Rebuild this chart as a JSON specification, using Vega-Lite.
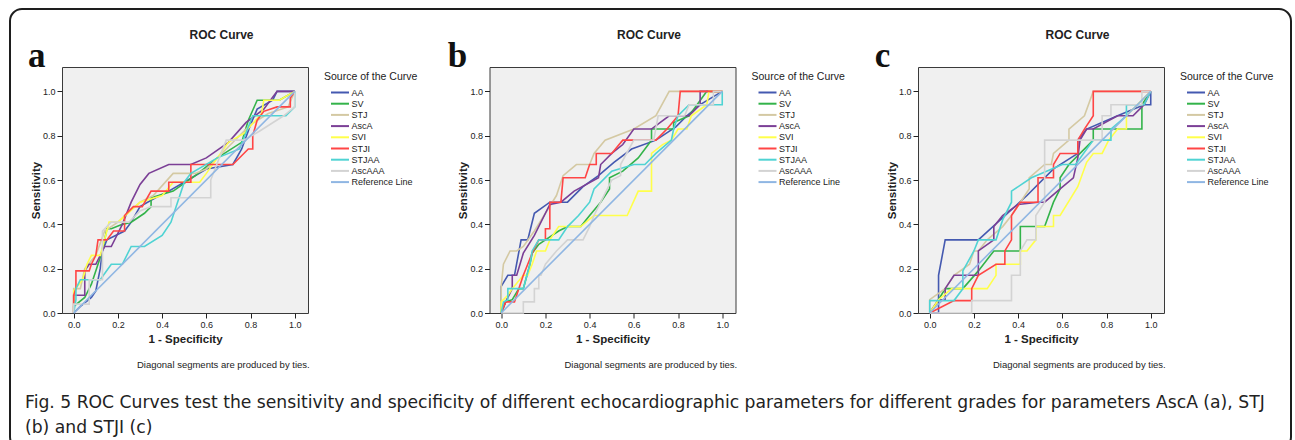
{
"$schema": "https://vega.github.io/schema/vega-lite/v6.json",
"padding": {"left": 9, "top": 3, "right": 0, "bottom": 0},
"config": {
  "font": "Liberation Sans",
  "view": {"stroke": null},
  "axis": {"grid": false, "domain": false, "tickColor": "#222", "tickSize": 5, "labelFont": "Liberation Sans", "labelFontSize": 9, "labelColor": "#222", "labelPadding": 2, "titleFont": "Liberation Sans", "titleFontSize": 11.5, "titleFontWeight": "bold", "titleColor": "#222"},
  "axisX": {"titlePadding": 4},
  "axisY": {"titlePadding": 1},
  "legend": {"orient": "right", "offset": 11, "padding": 5, "symbolType": "M-2,0H2", "symbolSize": 81, "symbolStrokeWidth": 2, "symbolOffset": 10.5, "labelOffset": 6, "labelFont": "Liberation Sans", "labelFontSize": 9, "labelColor": "#222", "rowPadding": 0.2, "titleFont": "Liberation Sans", "titleFontSize": 10.5, "titleFontWeight": "normal", "titleColor": "#222", "titlePadding": 4.5},
  "title": {"font": "Liberation Sans", "fontSize": 12, "fontWeight": "bold", "color": "#222"}
},
"datasets": {
  "pa": [
    {"s": "AA", "x": [0,0.03,0.08,0.1,0.12,0.13,0.15,0.21,0.23,0.26,0.3,0.37,0.43,0.5,0.6,0.72,0.76,0.8,0.83,0.9,0.92,1], "y": [0,0.03,0.07,0.1,0.2,0.28,0.33,0.36,0.37,0.41,0.48,0.52,0.55,0.59,0.65,0.67,0.74,0.85,0.92,0.96,1,1]},
    {"s": "SV", "x": [0,0,0.05,0.08,0.12,0.14,0.15,0.17,0.22,0.26,0.32,0.35,0.35,0.45,0.55,0.65,0.76,0.79,0.83,0.93,1], "y": [0,0.03,0.07,0.13,0.25,0.33,0.38,0.38,0.4,0.41,0.45,0.48,0.52,0.55,0.62,0.7,0.77,0.87,0.96,0.96,1]},
    {"s": "STJ", "x": [0,0,0.03,0.05,0.1,0.14,0.2,0.3,0.36,0.45,0.55,0.6,0.7,0.8,0.88,0.97,1], "y": [0,0.11,0.11,0.2,0.26,0.37,0.41,0.5,0.53,0.63,0.63,0.65,0.75,0.85,0.9,0.93,1]},
    {"s": "AscA", "x": [0,0,0.05,0.05,0.07,0.1,0.14,0.17,0.22,0.26,0.3,0.34,0.43,0.53,0.6,0.7,0.78,0.86,0.92,0.97,1], "y": [0,0.08,0.08,0.19,0.22,0.22,0.3,0.3,0.4,0.5,0.58,0.63,0.67,0.67,0.7,0.77,0.86,0.92,1,1,1]},
    {"s": "SVI", "x": [0,0,0.04,0.06,0.08,0.12,0.15,0.16,0.2,0.3,0.4,0.45,0.57,0.6,0.7,0.77,0.85,0.86,0.93,1], "y": [0,0.1,0.15,0.22,0.26,0.26,0.37,0.41,0.41,0.5,0.53,0.59,0.59,0.63,0.77,0.81,0.9,0.96,0.96,1]},
    {"s": "STJI", "x": [0,0,0.01,0.01,0.07,0.08,0.1,0.11,0.15,0.18,0.23,0.23,0.27,0.31,0.35,0.43,0.43,0.53,0.53,0.72,0.79,0.81,0.81,0.83,0.86,0.92,0.98,0.98,1], "y": [0,0.08,0.11,0.19,0.19,0.22,0.26,0.33,0.33,0.37,0.37,0.44,0.48,0.48,0.55,0.55,0.59,0.59,0.67,0.67,0.74,0.74,0.8,0.87,0.91,0.93,0.93,0.97,1]},
    {"s": "STJAA", "x": [0,0.01,0.01,0.03,0.12,0.17,0.22,0.26,0.32,0.4,0.44,0.5,0.53,0.65,0.75,0.81,0.96,1,1], "y": [0,0.06,0.11,0.15,0.15,0.22,0.22,0.3,0.3,0.35,0.41,0.59,0.63,0.7,0.74,0.89,0.89,0.93,1]},
    {"s": "AscAAA", "x": [0,0,0.07,0.07,0.13,0.13,0.17,0.25,0.3,0.35,0.44,0.44,0.62,0.62,0.69,0.77,0.84,0.95,1,1], "y": [0,0.04,0.04,0.15,0.15,0.37,0.41,0.41,0.46,0.48,0.48,0.52,0.52,0.6,0.78,0.78,0.82,0.89,0.93,1]},
    {"s": "Reference Line", "x": [0,1], "y": [0,1]}
  ],
  "pb": [
    {"s": "AA", "x": [0,0,0.03,0.06,0.09,0.12,0.15,0.22,0.3,0.37,0.44,0.51,0.59,0.7,0.79,0.84,0.9,1], "y": [0,0.12,0.17,0.17,0.33,0.33,0.45,0.5,0.5,0.57,0.62,0.68,0.74,0.78,0.84,0.89,0.94,1]},
    {"s": "SV", "x": [0,0.02,0.05,0.08,0.1,0.13,0.14,0.17,0.2,0.26,0.3,0.36,0.4,0.45,0.49,0.49,0.55,0.62,0.68,0.68,0.78,0.78,0.85,0.93,1], "y": [0,0.05,0.06,0.11,0.11,0.22,0.27,0.31,0.33,0.37,0.39,0.39,0.44,0.5,0.56,0.61,0.64,0.7,0.78,0.83,0.83,0.86,0.89,1,1]},
    {"s": "STJ", "x": [0,0,0.01,0.04,0.07,0.1,0.15,0.2,0.25,0.28,0.34,0.4,0.42,0.47,0.6,0.7,0.76,1], "y": [0,0.12,0.22,0.28,0.28,0.3,0.37,0.45,0.53,0.62,0.67,0.67,0.72,0.78,0.83,0.89,1,1]},
    {"s": "AscA", "x": [0,0.02,0.05,0.05,0.07,0.1,0.15,0.22,0.27,0.33,0.44,0.45,0.5,0.55,0.6,0.68,0.72,0.76,0.85,0.9,0.9,1], "y": [0,0.05,0.11,0.17,0.17,0.27,0.35,0.49,0.5,0.55,0.61,0.67,0.72,0.76,0.83,0.83,0.86,0.89,0.89,0.94,1,1]},
    {"s": "SVI", "x": [0,0,0.03,0.05,0.1,0.12,0.14,0.16,0.2,0.22,0.26,0.36,0.42,0.57,0.62,0.68,0.68,0.73,0.77,0.8,0.84,0.86,0.93,0.94,1], "y": [0,0.05,0.08,0.11,0.17,0.17,0.22,0.28,0.28,0.33,0.39,0.39,0.44,0.44,0.55,0.55,0.72,0.76,0.78,0.83,0.83,0.89,0.94,1,1]},
    {"s": "STJI", "x": [0,0.02,0.06,0.08,0.1,0.12,0.14,0.17,0.2,0.2,0.22,0.22,0.27,0.28,0.38,0.4,0.43,0.43,0.5,0.55,0.7,0.75,0.8,0.81,0.96,1], "y": [0,0.05,0.05,0.11,0.17,0.22,0.27,0.33,0.33,0.38,0.38,0.5,0.5,0.61,0.61,0.67,0.67,0.72,0.72,0.78,0.78,0.83,0.89,1,1,1]},
    {"s": "STJAA", "x": [0,0.01,0.03,0.03,0.1,0.13,0.14,0.17,0.26,0.3,0.35,0.4,0.42,0.5,0.6,0.65,0.7,0.77,0.78,0.8,0.85,1,1], "y": [0,0.05,0.06,0.11,0.11,0.22,0.28,0.33,0.33,0.39,0.44,0.5,0.56,0.64,0.67,0.67,0.72,0.78,0.83,0.89,0.94,0.94,1]},
    {"s": "AscAAA", "x": [0,0.1,0.1,0.15,0.15,0.17,0.17,0.18,0.2,0.25,0.3,0.37,0.4,0.42,0.45,0.5,0.54,0.54,0.6,0.69,0.71,0.83,0.85,0.96,0.96,1], "y": [0,0,0.05,0.05,0.11,0.11,0.17,0.17,0.22,0.28,0.33,0.33,0.39,0.44,0.5,0.6,0.62,0.67,0.78,0.78,0.89,0.89,0.94,0.94,1,1]},
    {"s": "Reference Line", "x": [0,1], "y": [0,1]}
  ],
  "pc": [
    {"s": "AA", "x": [0,0.04,0.04,0.07,0.22,0.44,0.56,0.67,0.67,0.71,0.85,0.97,1,1], "y": [0,0,0.17,0.33,0.33,0.53,0.65,0.72,0.78,0.83,0.89,0.94,0.94,1]},
    {"s": "SV", "x": [0,0.04,0.07,0.15,0.22,0.29,0.41,0.41,0.52,0.56,0.59,0.59,0.63,0.68,0.74,0.74,0.96,0.96,1], "y": [0,0.06,0.11,0.11,0.19,0.28,0.28,0.39,0.39,0.5,0.56,0.61,0.67,0.72,0.78,0.83,0.83,0.94,1]},
    {"s": "STJ", "x": [0,0,0.07,0.11,0.18,0.2,0.22,0.26,0.33,0.37,0.45,0.45,0.52,0.55,0.56,0.63,0.63,0.7,0.74,1], "y": [0,0.06,0.11,0.17,0.22,0.28,0.28,0.33,0.39,0.44,0.56,0.61,0.67,0.67,0.72,0.78,0.83,0.89,1,1]},
    {"s": "AscA", "x": [0,0.04,0.07,0.07,0.11,0.22,0.22,0.29,0.29,0.33,0.4,0.49,0.52,0.59,0.65,0.67,0.68,0.71,0.74,0.85,0.92,0.97,1], "y": [0,0.06,0.06,0.11,0.17,0.17,0.28,0.33,0.39,0.44,0.49,0.5,0.5,0.56,0.61,0.7,0.78,0.83,0.83,0.89,0.89,0.94,1]},
    {"s": "SVI", "x": [0,0.04,0.1,0.26,0.3,0.3,0.41,0.41,0.44,0.48,0.48,0.56,0.56,0.59,0.67,0.71,0.74,0.78,0.81,0.85,0.89,0.89,0.94,1], "y": [0,0.06,0.11,0.11,0.17,0.22,0.22,0.28,0.28,0.33,0.39,0.39,0.44,0.44,0.57,0.68,0.72,0.72,0.78,0.83,0.83,0.89,0.94,1]},
    {"s": "STJI", "x": [0,0.11,0.19,0.19,0.22,0.3,0.34,0.34,0.37,0.37,0.41,0.49,0.49,0.56,0.56,0.59,0.67,0.67,0.7,0.74,0.74,0.96,1], "y": [0,0.056,0.056,0.11,0.17,0.22,0.22,0.28,0.33,0.44,0.5,0.5,0.61,0.61,0.67,0.72,0.72,0.78,0.83,0.89,1,1,1]},
    {"s": "STJAA", "x": [0,0,0.11,0.15,0.15,0.2,0.22,0.3,0.33,0.37,0.37,0.46,0.6,0.66,0.74,0.82,0.82,0.89,0.89,0.97,1], "y": [0,0.056,0.056,0.11,0.19,0.28,0.33,0.33,0.42,0.5,0.55,0.61,0.67,0.67,0.78,0.78,0.83,0.89,0.94,0.94,1]},
    {"s": "AscAAA", "x": [0,0.19,0.19,0.37,0.37,0.41,0.41,0.44,0.48,0.48,0.52,0.52,0.78,0.78,0.82,0.82,0.96,0.96,1], "y": [0,0,0.056,0.056,0.17,0.17,0.28,0.33,0.33,0.44,0.5,0.78,0.78,0.89,0.89,0.94,0.94,1,1]},
    {"s": "Reference Line", "x": [0,1], "y": [0,1]}
  ]
},
"bounds": "flush",
"spacing": 0,
"vconcat": [
  {
    "hconcat": [
      {
        "width": 1281, "height": 440,
        "view": {"stroke": "#1e1e1e", "strokeWidth": 2, "cornerRadius": 12, "fill": null},
        "data": {"values": [{}]},
        "mark": {"type": "text", "text": ""},
        "title": {"text": ["Fig. 5 ROC Curves test the sensitivity and specificity of different echocardiographic parameters for different grades for parameters AscA (a), STJ", "(b) and STJI (c)"], "orient": "bottom", "anchor": "start", "frame": "group", "offset": -55, "dx": 15, "font": "DejaVu Sans", "fontSize": 17.2, "fontWeight": "normal", "lineHeight": 25, "color": "#222"}
      }
    ]
  },
  {
    "spacing": 0,
    "hconcat": [
      {"width": 17, "height": 1, "data": {"values": [{}]}, "mark": {"type": "text", "text": ""}},
      {
        "spacing": 0,
        "vconcat": [
          {"width": 1, "height": 19, "data": {"values": [{}]}, "mark": {"type": "text", "text": ""}},
          {
            "spacing": 22.5,
            "resolve": {"scale": {"color": "independent"}, "legend": {"color": "independent"}},
            "hconcat": [
              {
                "width": 246, "height": 246,
                "view": {"fill": "#f0f0f0", "stroke": "#3a3a3a", "strokeWidth": 1},
                "title": {"text": "ROC Curve", "frame": "group", "anchor": "middle", "dx": 36.5, "offset": -2.8},
                "layer": [
                  {
                    "data": {"name": "pa"},
                    "transform": [{"flatten": ["x", "y"]}],
                    "mark": {"type": "line", "strokeWidth": 1.6},
                    "encoding": {
                      "x": {"field": "x", "type": "quantitative", "scale": {"domain": [-0.053, 1.06], "nice": false, "zero": false}, "axis": {"values": [0, 0.2, 0.4, 0.6, 0.8, 1], "format": ".1f", "title": "1 - Specificity"}},
                      "y": {"field": "y", "type": "quantitative", "scale": {"domain": [0, 1.11], "nice": false}, "axis": {"values": [0, 0.2, 0.4, 0.6, 0.8, 1], "format": ".1f", "title": "Sensitivity"}},
                      "color": {"field": "s", "type": "nominal", "scale": {"domain": ["AA", "SV", "STJ", "AscA", "SVI", "STJI", "STJAA", "AscAAA", "Reference Line"], "range": ["#4459b0", "#33b34a", "#d4c9a3", "#7b3f96", "#ffff4a", "#ff4545", "#4fd3d3", "#d3d3d3", "#8fb6e3"]}, "legend": {"title": "Source of the Curve"}},
                      "order": {"value": null}
                    }
                  },
                  {
                    "data": {"values": [{}]},
                    "mark": {"type": "text", "text": "a", "font": "Liberation Serif", "fontWeight": "bold", "fontSize": 35, "baseline": "alphabetic", "align": "center", "color": "#111"},
                    "encoding": {"x": {"datum": -0.167, "type": "quantitative"}, "y": {"datum": 1.11, "type": "quantitative"}}
                  },
                  {
                    "data": {"values": [{}]},
                    "mark": {"type": "text", "text": "Diagonal segments are produced by ties.", "font": "Liberation Sans", "fontSize": 9.5, "baseline": "middle", "align": "center", "color": "#222"},
                    "encoding": {"x": {"datum": 0.677, "type": "quantitative"}, "y": {"datum": -0.236, "type": "quantitative"}}
                  }
                ]
              },
              {
                "width": 246, "height": 246,
                "view": {"fill": "#f0f0f0", "stroke": "#3a3a3a", "strokeWidth": 1},
                "title": {"text": "ROC Curve", "frame": "group", "anchor": "middle", "dx": 36.5, "offset": -2.8},
                "layer": [
                  {
                    "data": {"name": "pb"},
                    "transform": [{"flatten": ["x", "y"]}],
                    "mark": {"type": "line", "strokeWidth": 1.6},
                    "encoding": {
                      "x": {"field": "x", "type": "quantitative", "scale": {"domain": [-0.053, 1.06], "nice": false, "zero": false}, "axis": {"values": [0, 0.2, 0.4, 0.6, 0.8, 1], "format": ".1f", "title": "1 - Specificity"}},
                      "y": {"field": "y", "type": "quantitative", "scale": {"domain": [0, 1.11], "nice": false}, "axis": {"values": [0, 0.2, 0.4, 0.6, 0.8, 1], "format": ".1f", "title": "Sensitivity"}},
                      "color": {"field": "s", "type": "nominal", "scale": {"domain": ["AA", "SV", "STJ", "AscA", "SVI", "STJI", "STJAA", "AscAAA", "Reference Line"], "range": ["#4459b0", "#33b34a", "#d4c9a3", "#7b3f96", "#ffff4a", "#ff4545", "#4fd3d3", "#d3d3d3", "#8fb6e3"]}, "legend": {"title": "Source of the Curve"}},
                      "order": {"value": null}
                    }
                  },
                  {
                    "data": {"values": [{}]},
                    "mark": {"type": "text", "text": "b", "font": "Liberation Serif", "fontWeight": "bold", "fontSize": 35, "baseline": "alphabetic", "align": "center", "color": "#111"},
                    "encoding": {"x": {"datum": -0.198, "type": "quantitative"}, "y": {"datum": 1.11, "type": "quantitative"}}
                  },
                  {
                    "data": {"values": [{}]},
                    "mark": {"type": "text", "text": "Diagonal segments are produced by ties.", "font": "Liberation Sans", "fontSize": 9.5, "baseline": "middle", "align": "center", "color": "#222"},
                    "encoding": {"x": {"datum": 0.677, "type": "quantitative"}, "y": {"datum": -0.236, "type": "quantitative"}}
                  }
                ]
              },
              {
                "width": 246, "height": 246,
                "view": {"fill": "#f0f0f0", "stroke": "#3a3a3a", "strokeWidth": 1},
                "title": {"text": "ROC Curve", "frame": "group", "anchor": "middle", "dx": 36.5, "offset": -2.8},
                "layer": [
                  {
                    "data": {"name": "pc"},
                    "transform": [{"flatten": ["x", "y"]}],
                    "mark": {"type": "line", "strokeWidth": 1.6},
                    "encoding": {
                      "x": {"field": "x", "type": "quantitative", "scale": {"domain": [-0.053, 1.06], "nice": false, "zero": false}, "axis": {"values": [0, 0.2, 0.4, 0.6, 0.8, 1], "format": ".1f", "title": "1 - Specificity"}},
                      "y": {"field": "y", "type": "quantitative", "scale": {"domain": [0, 1.11], "nice": false}, "axis": {"values": [0, 0.2, 0.4, 0.6, 0.8, 1], "format": ".1f", "title": "Sensitivity"}},
                      "color": {"field": "s", "type": "nominal", "scale": {"domain": ["AA", "SV", "STJ", "AscA", "SVI", "STJI", "STJAA", "AscAAA", "Reference Line"], "range": ["#4459b0", "#33b34a", "#d4c9a3", "#7b3f96", "#ffff4a", "#ff4545", "#4fd3d3", "#d3d3d3", "#8fb6e3"]}, "legend": {"title": "Source of the Curve"}},
                      "order": {"value": null}
                    }
                  },
                  {
                    "data": {"values": [{}]},
                    "mark": {"type": "text", "text": "c", "font": "Liberation Serif", "fontWeight": "bold", "fontSize": 35, "baseline": "alphabetic", "align": "center", "color": "#111"},
                    "encoding": {"x": {"datum": -0.213, "type": "quantitative"}, "y": {"datum": 1.11, "type": "quantitative"}}
                  },
                  {
                    "data": {"values": [{}]},
                    "mark": {"type": "text", "text": "Diagonal segments are produced by ties.", "font": "Liberation Sans", "fontSize": 9.5, "baseline": "middle", "align": "center", "color": "#222"},
                    "encoding": {"x": {"datum": 0.677, "type": "quantitative"}, "y": {"datum": -0.236, "type": "quantitative"}}
                  }
                ]
              }
            ]
          }
        ]
      }
    ]
  }
]
}
